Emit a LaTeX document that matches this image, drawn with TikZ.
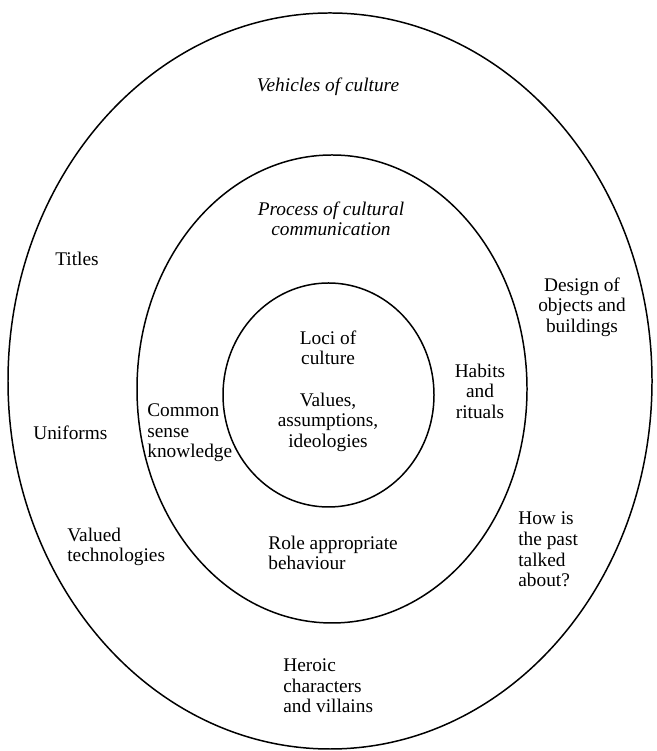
\documentclass[tikz,border=0pt]{standalone}
\usepackage{fontspec}
\setmainfont{Liberation Serif}
\usetikzlibrary{positioning}

\begin{document}
\begin{tikzpicture}
[ring/.style={line width=0.85pt},
 lbl/.style={inner sep=0pt, font=\fontsize{11}{11.7}\selectfont},
 head/.style={lbl, font=\fontsize{11}{11.7}\selectfont\itshape, align=center}
]

\useasboundingbox (0,0) rectangle (13.12,15.02);

\coordinate (O) at (6.60,7.40);
\coordinate (M) at (6.64,7.24);
\coordinate (I) at (6.57,7.12);
\draw[ring] (O) ellipse (6.44cm and 7.36cm);% outer ring
\draw[ring] (M) ellipse (3.90cm and 4.68cm);
\draw[ring] (I) ellipse (2.11cm and 2.24cm);

% ring titles
\node[head] (vehicles) at (6.56,13.28) {Vehicles of culture};
\node[head] (process) at (6.62,10.64) {Process of cultural\\communication};

% inner circle
\node[lbl, align=center] (loci) at (6.56,8.06) {Loci of\\culture};
\node[lbl, align=center] (values) at (6.56,6.58) {Values,\\assumptions,\\ideologies};

% middle ring
\node[lbl, align=left, anchor=west] (common) at (2.94,6.36) {Common\\sense\\knowledge};
\node[lbl, align=center] (habits) at (9.60,7.20) {Habits\\and\\rituals};
\node[lbl, align=left, anchor=west] (role) at (5.36,3.96) {Role appropriate\\behaviour};

% outer ring
\node[lbl, anchor=west] (titles) at (1.10,9.84) {Titles};
\node[lbl, anchor=west] (uniforms) at (0.66,6.36) {Uniforms};
\node[lbl, align=left, anchor=west] (valued) at (1.34,4.08) {Valued\\technologies};
\node[lbl, align=center] (design) at (11.64,8.88) {Design of\\objects and\\buildings};
\node[lbl, align=left, anchor=west] (past) at (10.36,4.03) {How is\\the past\\talked\\about?};
\node[lbl, align=left, anchor=west] (heroic) at (5.66,1.30) {Heroic\\characters\\and villains};

\end{tikzpicture}
\end{document}
